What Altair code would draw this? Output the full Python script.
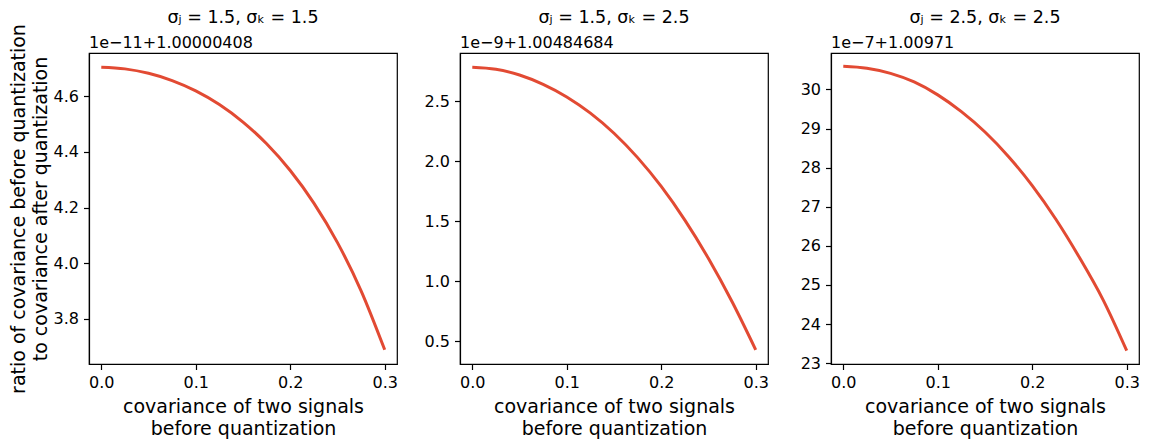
import altair as alt
import pandas as pd

# covariance of two signals before quantization (x)
x_cov = [0.0, 0.025, 0.05, 0.075, 0.1, 0.125, 0.15, 0.175, 0.2, 0.225, 0.25, 0.275, 0.3]

# ratio values (relative to each panel's offset)
ratio_a = [4.704, 4.698, 4.682, 4.656, 4.619, 4.570, 4.507, 4.429, 4.333, 4.216, 4.074, 3.901, 3.689]
ratio_b = [2.783, 2.766, 2.718, 2.640, 2.535, 2.400, 2.233, 2.030, 1.790, 1.510, 1.190, 0.830, 0.430]
ratio_c = [30.59, 30.54, 30.41, 30.19, 29.86, 29.43, 28.91, 28.28, 27.54, 26.68, 25.70, 24.62, 23.32]

panel_titles = ["σⱼ = 1.5, σₖ = 1.5", "σⱼ = 1.5, σₖ = 2.5", "σⱼ = 2.5, σₖ = 2.5"]
offset_texts = ["1e−11+1.00000408", "1e−9+1.00484684", "1e−7+1.00971"]
y_domains = [[3.638, 4.755], [0.312, 2.901], [22.98, 30.93]]
y_ticks = [[3.8, 4.0, 4.2, 4.4, 4.6],
           [0.5, 1.0, 1.5, 2.0, 2.5],
           [23, 24, 25, 26, 27, 28, 29, 30]]
y_formats = [".1f", ".1f", "d"]
x_ticks = [0.0, 0.1, 0.2, 0.3]
x_title = ["covariance of two signals", "before quantization"]
y_title = ["ratio of covariance before quantization", "to covariance after quantization"]

series = [ratio_a, ratio_b, ratio_c]
LINE_COLOR = "#E24A33"
PANEL_W = 308
PANEL_H = 311


def panel(i):
    df = pd.DataFrame({"x": x_cov, "y": series[i]})
    y_axis_kwargs = dict(values=y_ticks[i], format=y_formats[i])
    if i == 0:
        y_axis_kwargs["title"] = y_title
    else:
        y_axis_kwargs["title"] = None
    line = alt.Chart(df).mark_line(
        color=LINE_COLOR, strokeWidth=3, interpolate="monotone"
    ).encode(
        x=alt.X("x:Q",
                scale=alt.Scale(domain=[-0.013, 0.313], nice=False, zero=False),
                axis=alt.Axis(values=x_ticks, format=".1f", title=x_title)),
        y=alt.Y("y:Q",
                scale=alt.Scale(domain=y_domains[i], nice=False, zero=False),
                axis=alt.Axis(**y_axis_kwargs)),
    )
    off = alt.Chart(pd.DataFrame({"t": [offset_texts[i]]})).mark_text(
        align="left", baseline="alphabetic", fontSize=16, color="black"
    ).encode(text="t:N", x=alt.value(0), y=alt.value(-5))
    ttl = alt.Chart(pd.DataFrame({"t": [panel_titles[i]]})).mark_text(
        align="center", baseline="alphabetic", fontSize=17.5, color="black"
    ).encode(text="t:N", x=alt.value(PANEL_W / 2), y=alt.value(-30))
    return alt.layer(line, off, ttl).properties(width=PANEL_W, height=PANEL_H)


chart = alt.hconcat(panel(0), panel(1), panel(2), spacing=63, bounds="flush").properties(
    padding={"left": 0, "top": 0, "right": 0, "bottom": 0}
).configure(
    font="DejaVu Sans"
).configure_view(
    stroke="black", strokeWidth=1.2
).configure_axis(
    grid=False,
    domainColor="black", domainWidth=1.2,
    tickColor="black", tickSize=5.5, tickWidth=1.2,
    labelColor="black", labelFontSize=16,
    titleColor="black", titleFontSize=19, titleFontWeight="normal",
    titleLineHeight=21.5,
).configure_axisX(
    labelPadding=5, titlePadding=7
).configure_axisY(
    labelPadding=5, titlePadding=3
)

chart.save("out.html", embed_options={"renderer": "svg", "actions": False})
